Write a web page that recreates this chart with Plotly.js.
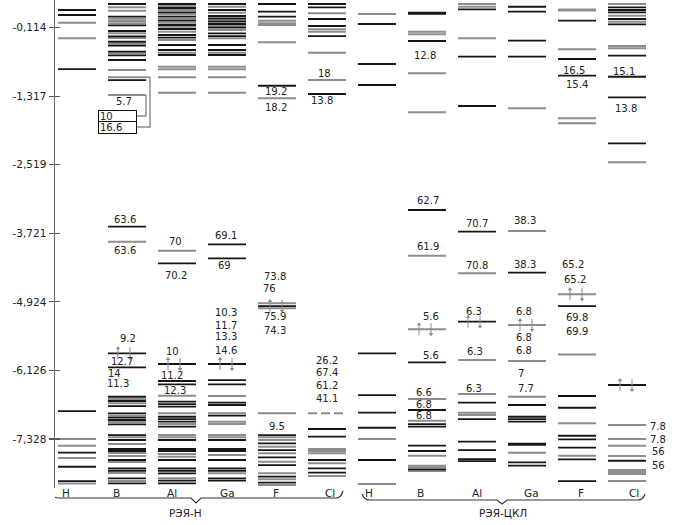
<!DOCTYPE html>
<html><head><meta charset="utf-8">
<script src="https://cdn.plot.ly/plotly-3.0.1.min.js"></script>
<style>html,body{margin:0;padding:0;background:#fff}#c{width:688px;height:525px}</style>
</head><body><div id="c"></div>
<script>
// ---------- data ----------
const categories = ['H','B','Al','Ga','F','Cl','H','B','Al','Ga','F','Cl'];
const groupNames = ['РЭЯ-Н','РЭЯ-ЦКЛ'];
const yTickVals = [-0.114,-1.317,-2.519,-3.721,-4.924,-6.126,-7.328];
const yTickText = ['-0,114','-1,317','-2,519','-3,721','-4,924','-6,126','-7,328'];

// energy levels (black / gray) per column
const H1_black = [0.197,0.109,-0.839,-6.839,-7.570,-7.816,-8.067];
const H1_gray  = [-0.026,-0.300,-7.330,-7.447,-7.663,-8.111];
const B1_black = [0.302,0.079,-0.072,-0.172,-0.265,-0.360,-0.430,-0.535,-0.598,-0.681,-1.032,-3.605,-5.826,-6.072,-6.588,-6.663,-6.751,-6.879,-6.956,-6.996,-7.072,-7.260,-7.347,-7.505,-7.540,-7.698,-7.844,-7.886,-8.019,-8.107];
const B1_gray  = [0.244,0.184,0.044,0.004,-0.037,-0.212,-0.295,-0.395,-0.563,-0.856,-0.984,-1.295,-3.868,-6.628,-6.704,-6.921,-7.032,-7.300,-7.418,-7.575,-7.628,-7.733,-7.926,-8.067];
const Al1_black = [0.302,0.232,0.156,0.079,0.009,-0.067,-0.137,-0.242,-0.289,-0.417,-0.505,-0.593,-4.247,-6.014,-6.312,-6.370,-6.675,-6.716,-6.763,-6.939,-6.979,-7.026,-7.114,-7.347,-7.505,-7.540,-7.698,-7.844,-7.886,-7.932,-8.061,-8.107];
const Al1_gray  = [0.267,0.197,0.121,0.044,-0.026,-0.096,-0.184,-0.330,-0.553,-0.798,-0.844,-0.984,-1.254,-4.026,-6.570,-6.879,-7.067,-7.260,-7.300,-7.593,-7.640,-8.019];
const Ga1_black = [0.302,0.197,0.091,0.051,-0.009,-0.049,-0.114,-0.212,-0.260,-0.417,-0.505,-0.593,-3.914,-4.160,-6.014,-6.295,-6.370,-6.693,-6.733,-6.921,-7.347,-7.505,-7.540,-7.698,-7.844,-7.886,-8.019,-8.061];
const Ga1_gray  = [0.254,0.149,0.021,-0.084,-0.154,-0.300,-0.553,-0.798,-0.844,-0.984,-1.254,-6.575,-6.879,-7.026,-7.067,-7.260,-7.300,-7.610,-7.932];
const F1_black = [0.302,0.167,0.079,-1.132,-4.997,-7.260,-7.405,-7.523,-7.651,-7.786,-7.991,-8.096];
const F1_gray  = [0.009,-0.037,-0.067,-0.370,-1.353,-4.949,-5.037,-6.879,-7.300,-7.347,-7.465,-7.581,-7.728,-7.932,-8.037,-8.137];
const Cl1_black = [0.302,0.244,0.039,-0.084,-0.260,-1.277,-7.154,-7.289,-7.698,-7.844,-7.921];
const Cl1_gray  = [0.139,-0.142,-0.184,-0.553,-1.032,-7.505,-7.540,-7.581,-7.756,-7.979];
const Cl1_dashed = [-6.879];
const H2_black = [-0.049,-0.751,-1.119,-5.826,-6.558,-6.868,-7.132,-7.698];
const H2_gray  = [0.126,-7.330,-8.119];
const B2_black = [0.150,0.128,-0.347,-3.312,-5.984,-6.821,-7.067,-7.114,-7.447,-7.540,-7.861];
const B2_gray  = [-0.184,-0.230,-0.914,-1.598,-4.114,-5.405,-6.628,-7.009,-7.623,-7.798,-7.826,-7.891];
const Al2_black = [0.209,-0.623,-1.488,-3.693,-5.272,-6.693,-6.979,-7.377,-7.523,-7.681,-7.716];
const Al2_gray  = [0.302,0.254,-0.300,-4.423,-5.944,-6.540,-6.868,-6.909];
const Ga2_black = [0.254,0.167,-0.342,-0.623,-4.412,-6.733,-6.939,-6.979,-7.026,-7.413,-7.433,-7.739,-7.798];
const Ga2_gray  = [-1.528,-3.681,-5.330,-5.961,-6.588,-7.570];
const F2_black = [0.009,-0.663,-0.956,-4.997,-6.575,-6.781,-7.272,-7.335,-7.482,-7.686,-8.067];
const F2_gray  = [0.207,0.187,-0.493,-1.703,-1.791,-4.791,-5.847,-7.054,-7.623];
const Cl2_black = [0.244,0.197,0.156,0.039,-0.054,-0.605,-0.974,-1.335,-2.142,-6.382,-7.711];
const Cl2_gray  = [0.302,0.097,-0.009,-0.435,-0.475,-2.475,-7.084,-7.330,-7.447,-7.628,-7.874,-7.909,-7.944,-8.067];

// value labels
const labelCol  = [1,1,1,1,1,1,1, 2,2,2,2,2, 3,3,3,3,3,3, 4,4,4,4,4,4,4, 5,5,5,5,5,5, 7,7,7,7,7,7,7,7, 8,8,8,8,8, 9,9,9,9,9,9,9, 10,10,10,10,10,10, 11,11,11,11,11,11];
const labelE    = [-1.417,-3.470,-4.014,-5.558,-5.974,-6.172,-6.347, -3.868,-4.465,-5.798,-6.207,-6.482, -3.763,-4.289,-5.107,-5.330,-5.535,-5.768, -1.237,-1.510,-4.482,-4.686,-5.184,-5.418,-7.102, -0.926,-1.395,-5.944,-6.167,-6.382,-6.616, -0.610,-3.149,-3.956,-5.184,-5.856,-6.518,-6.716,-6.914, -3.546,-4.277,-5.096,-5.798,-6.440, -3.488,-4.260,-5.096,-5.553,-5.781,-6.189,-6.440, -0.856,-1.119,-4.260,-4.528,-5.195,-5.435, -0.886,-1.528,-7.102,-7.330,-7.553,-7.786];
const labelText = ['5.7','63.6','63.6','9.2','12.7','14','11.3', '70','70.2','10','11.2','12.3', '69.1','69','10.3','11.7','13.3','14.6', '19.2','18.2','73.8','76','75.9','74.3','9.5', '18','13.8','26.2','67.4','61.2','41.1', '12.8','62.7','61.9','5.6','5.6','6.6','6.8','6.8', '70.7','70.8','6.3','6.3','6.3', '38.3','38.3','6.8','6.8','6.8','7','7.7', '16.5','15.4','65.2','65.2','69.8','69.9', '15.1','13.8','7.8','7.8','56','56'];
// boxed labels (B, РЭЯ-Н) and the levels they refer to
const boxText = ['10','16.6'];
const boxE = [-1.663,-1.856];
const boxLevelE = [-1.295,-0.984];
// spin-pair arrows on occupied levels
const arrowCol = [1,2,3,4,7,8,9,10,11];
const arrowE   = [-5.826,-6.014,-6.014,-4.997,-5.405,-5.272,-5.330,-4.791,-6.382];

// ---------- styling / geometry ----------
const labelShift = [-3,-2,-2,1,-5,-13,-9, -2,-1,-5,-5,-2, -1,-3,-1,-1,-1,-1, -1,-1,-2,-8,-2,-2,0, -3,-5,0,0,0,0, -2,1,1,4,4,-3,-3,-3, 0,0,-3,-2,-3, -2,-2,-3,-3,-3,-6,-1, -3,0,-4,-2,0,0, -3,-1,31,31,31,31];
const arrowShift = [-3,-3,-1,-1,-2,-3,-1,-1,-1];
const catShift = [-11,-11,-5,0,-1,3,-8,-7,0,4,4,7];
const HALF = 0.38;
const BLACK = '#161616', GRAY = '#8d8d8d', ARROW = '#8a8a8a';
const FONT = 'DejaVu Sans, Verdana, sans-serif';
const PLOT_T = 0, PLOT_B = 488, X0PX = 77, COLPX = 50;
const YR = [-8.189, 0.372];
const PXPERE = (PLOT_B - PLOT_T) / (YR[1] - YR[0]);
const px2x = p => (p - X0PX) / COLPX;
const py2paper = p => (PLOT_B - p) / (PLOT_B - PLOT_T);

const blackCols = [H1_black,B1_black,Al1_black,Ga1_black,F1_black,Cl1_black,H2_black,B2_black,Al2_black,Ga2_black,F2_black,Cl2_black];
const grayCols  = [H1_gray,B1_gray,Al1_gray,Ga1_gray,F1_gray,Cl1_gray,H2_gray,B2_gray,Al2_gray,Ga2_gray,F2_gray,Cl2_gray];
const dashedCols = {5: Cl1_dashed};

function segs(cols) {
  const x = [], y = [];
  cols.forEach((arr, i) => arr.forEach(e => { x.push(i - HALF, i + HALF, null); y.push(e, e, null); }));
  return {x, y};
}
const sb = segs(blackCols), sg = segs(grayCols);
const dx = [], dy = [];
Object.keys(dashedCols).forEach(k => dashedCols[k].forEach(e => { dx.push(+k - HALF, +k + HALF, null); dy.push(e, e, null); }));

// spin arrows: vertical strokes + heads
const ax = [], ay = [], upX = [], upY = [], dnX = [], dnY = [];
const aLo = 6 / PXPERE, aHi = 7 / PXPERE;
arrowCol.forEach((c, i) => {
  const xu = c + (arrowShift[i] - 6) / COLPX, xd = c + (arrowShift[i] + 6) / COLPX, e = arrowE[i];
  ax.push(xu, xu, null, xd, xd, null);
  ay.push(e - aLo, e + aHi - 1 / PXPERE, null, e + aLo, e - aHi + 1 / PXPERE, null);
  upX.push(xu); upY.push(e + aHi - 2 / PXPERE);
  dnX.push(xd); dnY.push(e - aHi + 2 / PXPERE);
});

const traces = [
  {x: sg.x, y: sg.y, mode: 'lines', line: {color: GRAY, width: 2}, hoverinfo: 'skip'},
  {x: sb.x, y: sb.y, mode: 'lines', line: {color: BLACK, width: 1.8}, hoverinfo: 'skip'},
  {x: dx, y: dy, mode: 'lines', line: {color: GRAY, width: 2, dash: '9px,4px'}, hoverinfo: 'skip'},
  {x: ax, y: ay, mode: 'lines', line: {color: ARROW, width: 1}, hoverinfo: 'skip'},
  {x: upX, y: upY, mode: 'markers', marker: {symbol: 'triangle-up', size: 4, color: ARROW}, hoverinfo: 'skip'},
  {x: dnX, y: dnY, mode: 'markers', marker: {symbol: 'triangle-down', size: 4, color: ARROW}, hoverinfo: 'skip'},
  // bracket connectors for boxed labels (column B)
  {x: [1 + HALF, 1 + HALF, 1 + 0.2], y: [boxLevelE[0], boxE[0], boxE[0]], mode: 'lines', line: {color: GRAY, width: 1.5}, hoverinfo: 'skip'},
  {x: [1 + HALF, 1 + 0.46, 1 + 0.46, 1 + 0.2], y: [boxLevelE[1], boxLevelE[1], boxE[1], boxE[1]], mode: 'lines', line: {color: GRAY, width: 1.5}, hoverinfo: 'skip'},
  {x: [0], y: [0], yaxis: 'y2', mode: 'markers', marker: {opacity: 0}, hoverinfo: 'skip'}
];

const ann = [];
labelText.forEach((t, i) => ann.push({x: labelCol[i], y: labelE[i], text: t, showarrow: false, xshift: labelShift[i],
  font: {family: FONT, size: 10, color: '#222'}, xanchor: 'center', yanchor: 'middle', borderpad: 0}));
boxText.forEach((t, i) => ann.push({x: 1, y: boxE[i], text: t, showarrow: false, xshift: -10, width: 35, height: 9, align: 'left',
  bordercolor: '#111', borderwidth: 1, borderpad: 1, bgcolor: '#fff', font: {family: FONT, size: 10, color: '#222'}}));
categories.forEach((c, i) => ann.push({x: i, y: 0, yref: 'paper', yshift: -5, yanchor: 'middle', text: c, showarrow: false,
  xshift: catShift[i], font: {family: FONT, size: 10.5, color: '#222'}}));
ann.push({x: px2x(185), y: py2paper(513), yref: 'paper', yanchor: 'middle', text: groupNames[0], showarrow: false, font: {family: FONT, size: 10.5, color: '#222'}});
ann.push({x: px2x(503), y: py2paper(513), yref: 'paper', yanchor: 'middle', text: groupNames[1], showarrow: false, font: {family: FONT, size: 10.5, color: '#222'}});

function bracePath(pts) {
  const [a, yh, v, c, yl, yv] = pts;
  const X = px2x, Y = py2paper;
  return `M ${X(a)},${Y(yh)} Q ${X(a + 2)},${Y(yl)} ${X(a + 8)},${Y(yl)} L ${X(v - 5)},${Y(yl)} L ${X(v)},${Y(yv)} L ${X(v + 5)},${Y(yl)} L ${X(c - 6)},${Y(yl)} Q ${X(c - 1)},${Y(yl)} ${X(c + 1)},${Y(yh)}`;
}
const shapes = [
  {type: 'path', xref: 'x', yref: 'paper', path: bracePath([50, 491, 196, 342, 498, 503]), line: {color: '#333', width: 1.2}},
  {type: 'path', xref: 'x', yref: 'paper', path: bracePath([362, 494, 502, 644, 500, 504]), line: {color: '#333', width: 1.2}}
];

const layout = {
  width: 688, height: 525, margin: {l: 55, r: 8, t: 0, b: 37}, showlegend: false,
  paper_bgcolor: '#fff', plot_bgcolor: '#fff',
  font: {family: FONT, size: 10.5, color: '#222'},
  xaxis: {range: [px2x(55), px2x(680)], showgrid: false, zeroline: false, showticklabels: false, ticks: '', showline: false, fixedrange: true},
  yaxis: {range: YR, tickvals: yTickVals, ticktext: yTickText, ticks: 'outside', ticklen: 5, tickwidth: 1.2, tickcolor: '#555',
    showline: true, linecolor: '#6a6a6a', linewidth: 1.5, showgrid: false, zeroline: false, tickfont: {family: FONT, size: 10.5, color: '#222'}, fixedrange: true},
  yaxis2: {range: YR, overlaying: 'y', side: 'left', anchor: 'x', tickvals: yTickVals, ticks: 'inside', ticklen: 5, tickwidth: 1.2, tickcolor: '#555',
    showticklabels: false, showline: false, showgrid: false, zeroline: false, fixedrange: true},
  annotations: ann, shapes: shapes
};
Plotly.newPlot('c', traces, layout, {staticPlot: true, displayModeBar: false});
</script></body></html>
